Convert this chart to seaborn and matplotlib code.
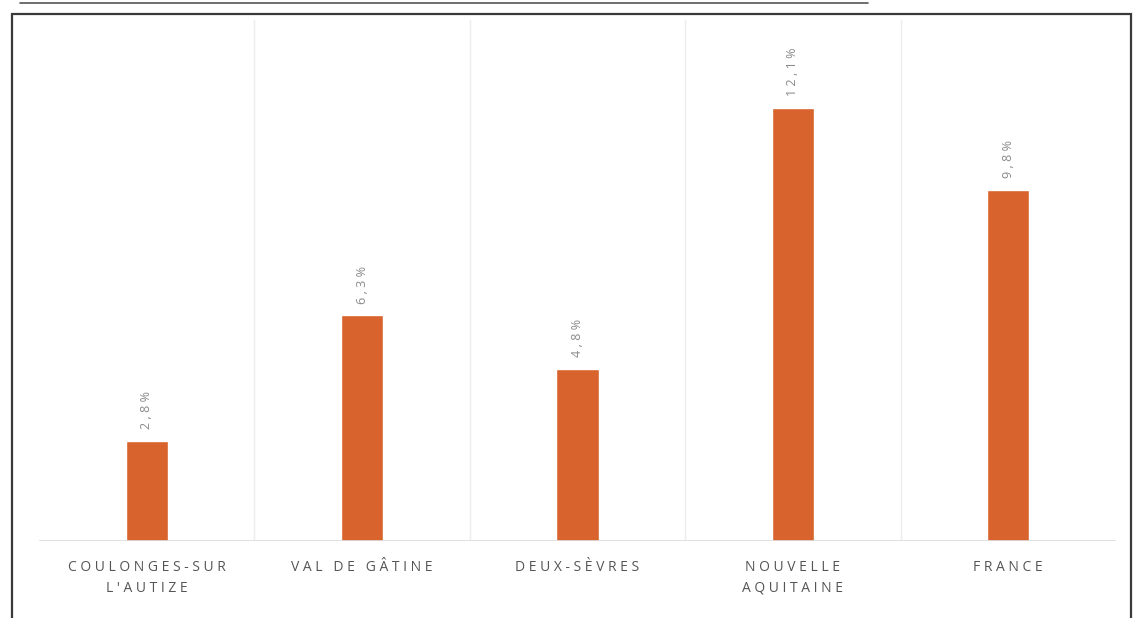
import matplotlib
matplotlib.use("Agg")
import matplotlib.pyplot as plt
import seaborn as sns
import pandas as pd
from matplotlib.patches import Rectangle
from matplotlib.lines import Line2D

# Territories and their share (%)
territoires = ["COULONGES-SUR\nL'AUTIZE", "VAL DE GÂTINE", "DEUX-SÈVRES",
               "NOUVELLE\nAQUITAINE", "FRANCE"]
valeurs = [2.8, 6.3, 4.8, 12.1, 9.8]
etiquettes = ["2,8%", "6,3%", "4,8%", "12,1%", "9,8%"]

df = pd.DataFrame({"territoire": territoires, "valeur": valeurs})

sns.set_theme(style="white")
plt.rcParams["font.family"] = ["Open Sans", "DejaVu Sans"]

fig = plt.figure(figsize=(11.34, 6.18), dpi=100)
ax = fig.add_axes([39 / 1134, (618 - 541) / 618, (1116 - 39) / 1134, (541 - 20) / 618])

bar_color = "#D8632C"
sns.barplot(data=df, x="territoire", y="valeur", color=bar_color,
            width=0.195, saturation=1, ax=ax)

ax.set_ylim(0, 14.55)
ax.set_xlim(-0.5, len(territoires) - 0.5)

GAP = "\u2009\u200a"


def spaced(s, gap):
    return "\n".join(gap.join(part) for part in s.split("\n"))


# value labels, rotated
for i, (v, lab) in enumerate(zip(valeurs, etiquettes)):
    ax.text(i, v + 0.33, spaced(lab, GAP), rotation=90, ha="center",
            va="bottom", fontsize=9, color="#8a8a8a")

# faint separators between categories
for b in range(1, len(territoires)):
    ax.axvline(b - 0.5, color="#ececec", lw=1, zorder=0)
ax.axhline(0, color="#dcdcdc", lw=1.2, zorder=3)

ax.set_xticks(range(len(territoires)))
ax.set_xticklabels([spaced(t, GAP) for t in territoires], fontsize=10,
                   color="#555555", linespacing=1.5)
ax.tick_params(axis="x", length=0, pad=14)
ax.set_yticks([])
ax.set_xlabel("")
ax.set_ylabel("")
for s in ax.spines.values():
    s.set_visible(False)

# outer frame and heading underline
fig.patches.append(Rectangle((12 / 1134, -0.05), (1131 - 12) / 1134,
                             (618 - 14) / 618 + 0.05, transform=fig.transFigure,
                             fill=False, edgecolor="#3a3a3a", lw=1.6))
fig.lines.append(Line2D([20 / 1134, 868 / 1134], [(618 - 3) / 618] * 2,
                        transform=fig.transFigure, color="#555555", lw=1.2))

fig.savefig("out.png", dpi=100, facecolor="white")
